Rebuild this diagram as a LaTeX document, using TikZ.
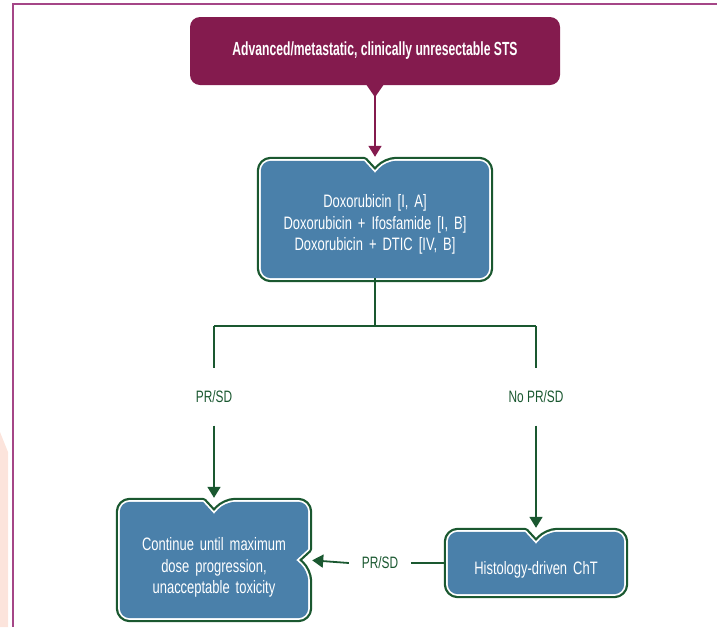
\documentclass[tikz,border=0pt]{standalone}
\usepackage{fontspec}
\setmainfont[FakeStretch=0.72]{Liberation Sans}
\newfontfamily\headfont[FakeStretch=0.64]{Liberation Sans}
\usetikzlibrary{arrows.meta,calc,backgrounds}

\definecolor{stsplum}{RGB}{132,27,78}
\definecolor{boxblue}{RGB}{74,128,170}
\definecolor{rimgreen}{RGB}{26,88,48}
\definecolor{framemauve}{RGB}{165,70,135}
\definecolor{bandpink}{RGB}{252,228,220}

\tikzset{
  headbox/.style={fill=stsplum, text=white, rounded corners=10pt, minimum width=370pt,
    minimum height=68pt, inner sep=0pt, font=\headfont\bfseries\fontsize{19}{22}\selectfont},
  stepnode/.style={inner sep=0pt, text=white, align=center,
    font=\fontsize{18}{21.5}\selectfont, execute at begin node={\rule{0pt}{#1}}},
  stepbox/.style={fill=boxblue,
    preaction={draw=rimgreen, line width=8pt, line join=round},
    preaction={draw=white, line width=3.5pt, line join=round}},
  link/.style={draw=rimgreen, line width=1.8pt},
  linkarrow/.style={link, -{Triangle[width=13pt,length=11pt]}, shorten >=4pt},
  branchlabel/.style={text=rimgreen, inner sep=0pt, minimum height=57pt,
    font=\fontsize{16.5}{19}\selectfont},
}

\begin{document}
\begin{tikzpicture}[x=1pt, y=-1pt]
	\useasboundingbox (0,0) rectangle (717,627);
	% page frame
	\fill[bandpink] (0,432) -- (8,452) -- (8,627) -- (0,627) -- cycle;
	\draw[framemauve, line width=2pt] (717,4) -- (13,4) -- (13,627);

	\node[headbox] (stage) at (375,51) {Advanced/metastatic, clinically unresectable STS};
	\node[stepnode=23pt, text width=220pt, minimum width=228pt, minimum height=117pt] (firstline) at (375,219.5)
		{Doxorubicin [I, A]\\ Doxorubicin + Ifosfamide [I, B]\\ Doxorubicin + DTIC [IV, B]};
	\node[stepnode=28pt, text width=180pt, minimum width=188pt, minimum height=116pt] (contbox) at (214,560)
		{Continue until maximum\\ dose progression,\\ unacceptable toxicity};
	\node[stepnode=27pt, text width=170pt, minimum width=176pt, minimum height=62pt] (chtbox) at (536,563)
		{Histology-driven ChT};

	\coordinate (fork) at (375,326);
	\node[branchlabel] (prsd) at (contbox.north |- 0,397) {PR/SD};
	\node[branchlabel] (noprsd) at (chtbox.north |- 0,397) {No PR/SD};
	\node[branchlabel, minimum height=0pt, minimum width=62pt] (backprsd) at (380,563) {PR/SD};

	% box outlines with notches
	\begin{scope}[on background layer]
		\fill[stsplum] ($(stage.south)+(-9,-1)$) -- ($(stage.south)+(0,12)$) -- ($(stage.south)+(9,-1)$) -- cycle;
		\path[stepbox] ($(firstline.north)+(-11,0)$) [rounded corners=10pt] -- (firstline.north west)
			-- (firstline.south west) -- (firstline.south east) -- (firstline.north east)
			-- ($(firstline.north)+(11,0)$) [sharp corners] -- ($(firstline.north)+(0,12)$) -- cycle;
		\path[stepbox] ($(contbox.north)+(-11,0)$) [rounded corners=10pt] -- (contbox.north west)
			-- (contbox.south west) -- (contbox.south east) -- ($(contbox.east)+(0,11)$) [sharp corners]
			-- ($(contbox.east)+(-12,0)$) -- ($(contbox.east)+(0,-11)$) [rounded corners=10pt]
			-- (contbox.north east) -- ($(contbox.north)+(11,0)$) [sharp corners] -- ($(contbox.north)+(0,12)$) -- cycle;
		\path[stepbox] ($(chtbox.north)+(-11,0)$) [rounded corners=10pt] -- (chtbox.north west)
			-- (chtbox.south west) -- (chtbox.south east) -- (chtbox.north east)
			-- ($(chtbox.north)+(11,0)$) [sharp corners] -- ($(chtbox.north)+(0,12)$) -- cycle;
	\end{scope}

	% connectors
	\draw[stsplum, line width=1.8pt, -{Triangle[width=13pt,length=11pt]}, shorten >=4pt]
		($(stage.south)+(0,11)$) -- (firstline.north);
	\draw[link] (firstline.south) -- (fork);
	\draw[link] (contbox.north |- fork) -- (chtbox.north |- fork);
	\draw[link] (contbox.north |- fork) -- (prsd.north);
	\draw[linkarrow] (prsd.south) -- (contbox.north);
	\draw[link] (chtbox.north |- fork) -- (noprsd.north);
	\draw[linkarrow] (noprsd.south) -- (chtbox.north);
	\draw[link, shorten <=4pt] (chtbox.west) -- (backprsd.east);
	\draw[linkarrow] (backprsd.west) -- (contbox.east);
\end{tikzpicture}
\end{document}
